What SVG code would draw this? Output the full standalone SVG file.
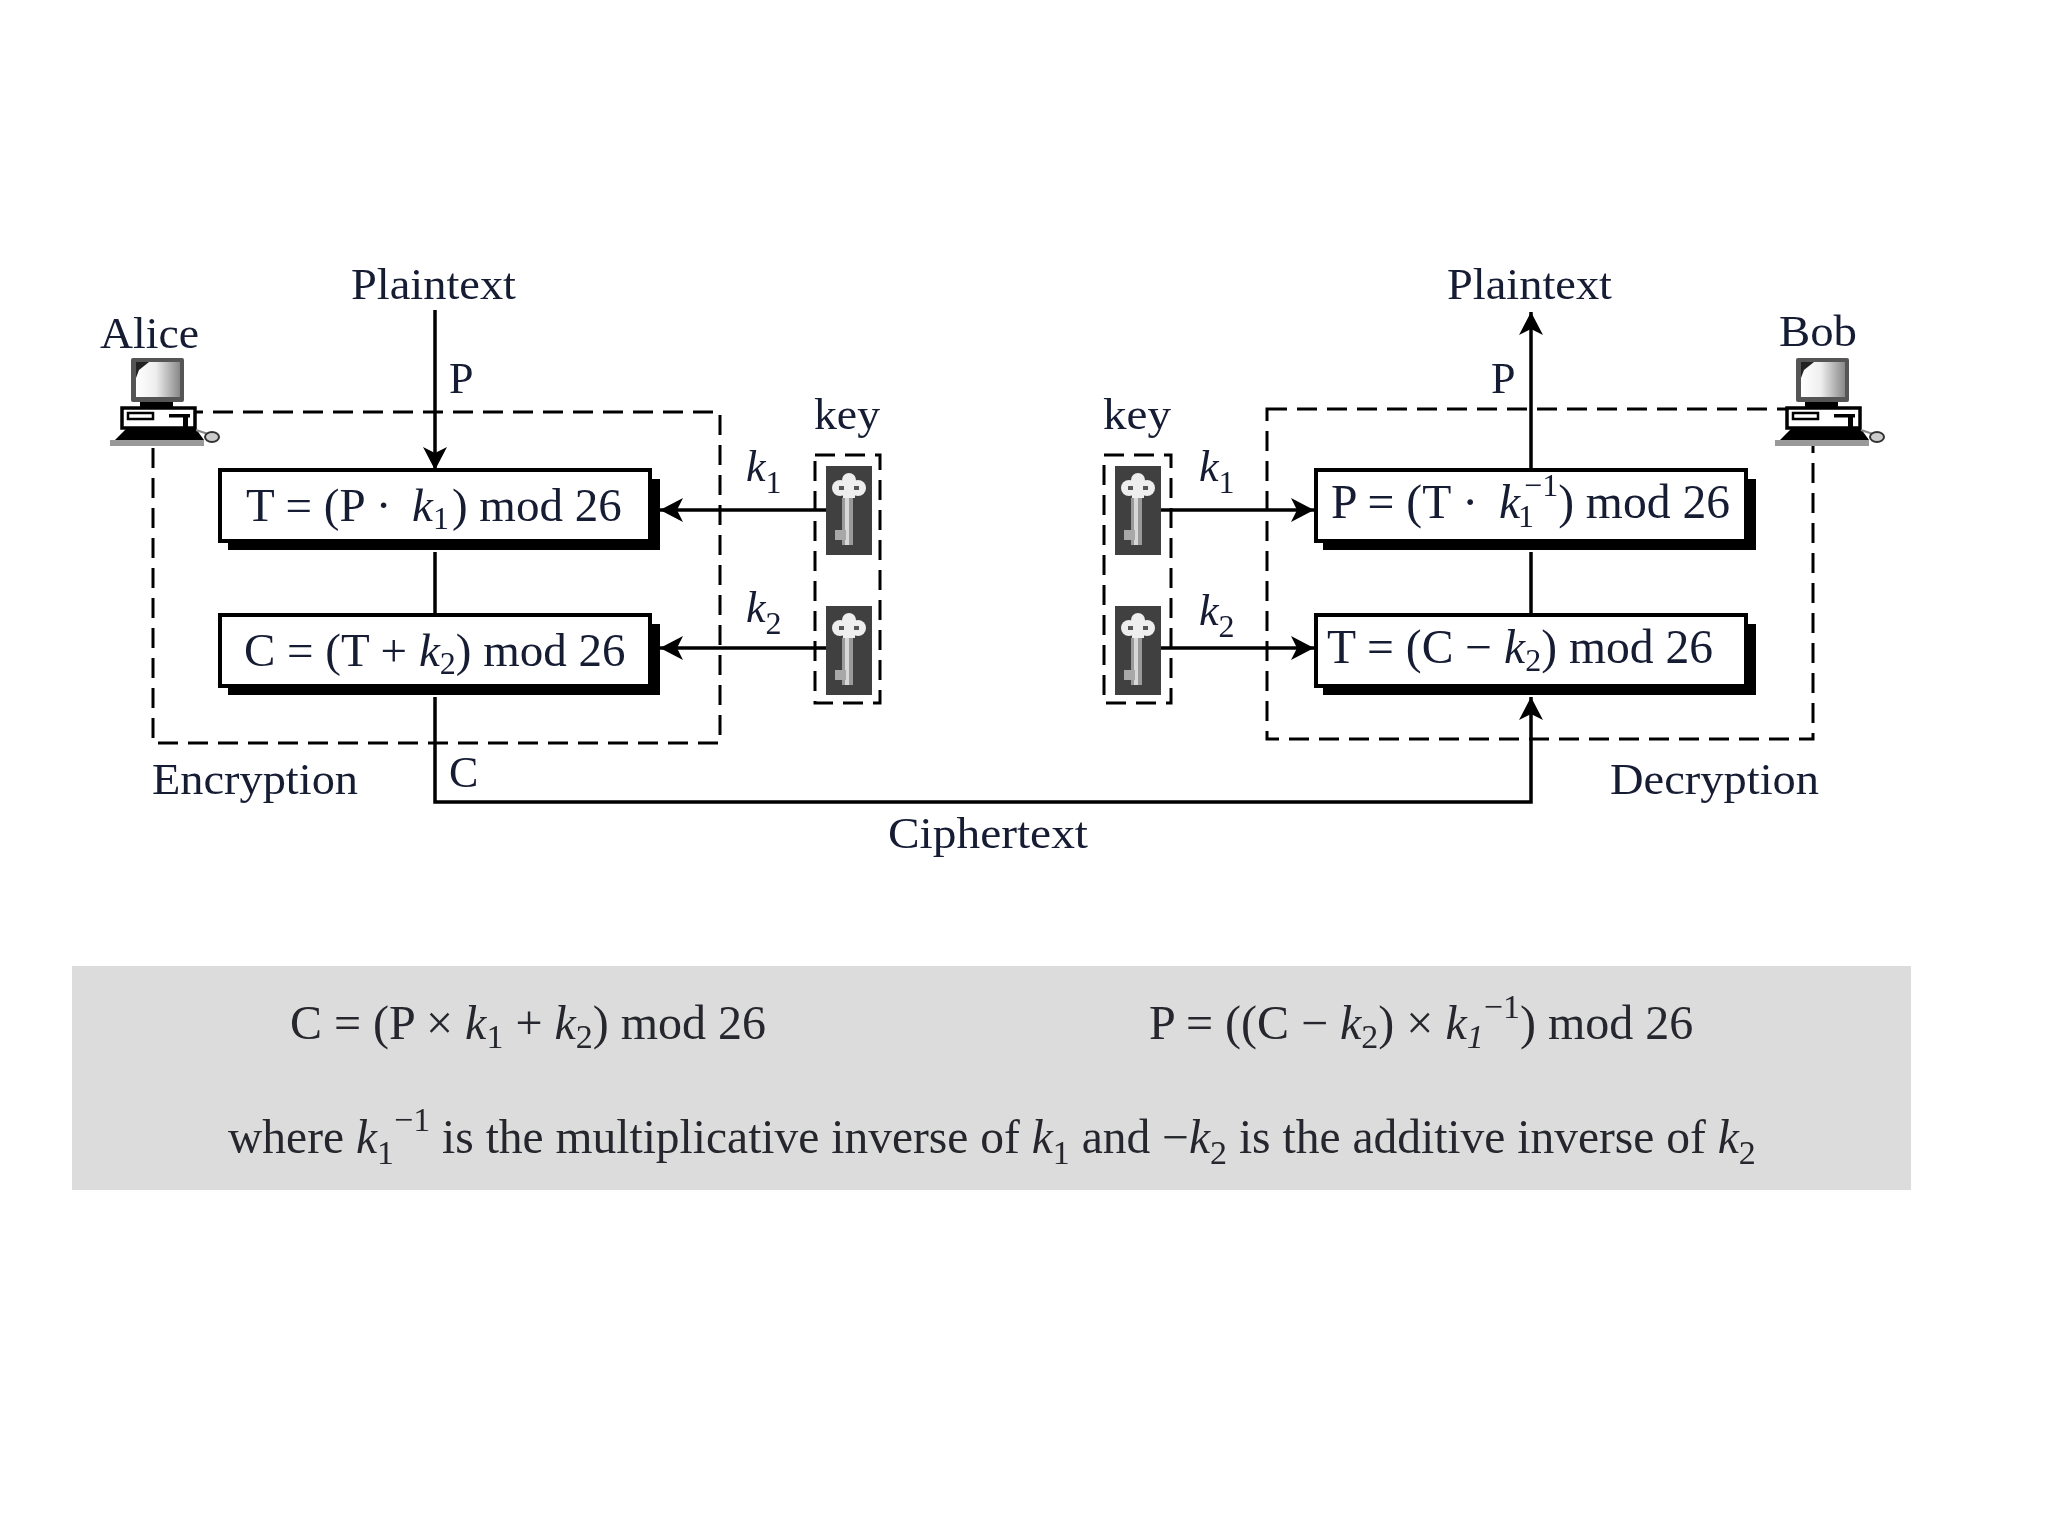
<svg xmlns="http://www.w3.org/2000/svg" width="2048" height="1536" viewBox="0 0 2048 1536">
<style>
text{font-family:"Liberation Serif","Times New Roman",serif;fill:#141a33;font-size:44px}
.eq{font-size:47px}
.eq.r{font-size:47.6px}
.g text{fill:#26282d;font-size:48px}
.g text.w{font-size:47.5px}
.i{font-style:italic}
.s{font-size:32px}
.g text .s{font-size:34px}
.line{fill:none;stroke:#000;stroke-width:3.5}
.dash{fill:none;stroke:#000;stroke-width:3;stroke-dasharray:20 10}
.box{fill:#fff;stroke:#000;stroke-width:4}
</style>
<defs>
<filter id="soft" filterUnits="userSpaceOnUse" x="0" y="0" width="2048" height="1536"><feGaussianBlur stdDeviation="0.7"/></filter>
<marker id="arrow" markerUnits="userSpaceOnUse" markerWidth="30" markerHeight="30" refX="26" refY="15" orient="auto">
<path d="M26,15 L3,3 L9,15 L3,27 Z" fill="#000"/>
</marker>
<linearGradient id="scr" x1="0" x2="1" y1="0" y2="0"><stop offset="0" stop-color="#fff"/><stop offset="0.45" stop-color="#eee"/><stop offset="1" stop-color="#888"/></linearGradient>
<symbol id="pc" width="130" height="100" viewBox="0 0 130 100" overflow="visible">
<rect x="11" y="8" width="53" height="44" rx="2" fill="#555"/>
<path d="M16,16 Q16,12 20,12 H60 V47 H16 Z" fill="url(#scr)"/>
<path d="M16,12 H29 L19,20 L16,28 Z" fill="#222"/>
<rect x="20" y="52" width="33" height="6" fill="#000"/>
<rect x="2" y="58" width="73" height="20" fill="#fff" stroke="#000" stroke-width="3.5"/>
<rect x="8" y="63" width="25" height="6" fill="#fff" stroke="#000" stroke-width="2.5"/>
<rect x="49" y="64" width="21" height="3.5" fill="#000"/>
<rect x="63" y="67" width="5" height="11" fill="#000"/>
<path d="M6,79 H76 L84,90 H-5 Z" fill="#000"/>
<rect x="-10" y="90" width="94" height="6" fill="#999"/>
<path d="M76,80 L88,84" stroke="#888" stroke-width="2" fill="none"/>
<ellipse cx="92" cy="87" rx="7" ry="5" fill="#ccc" stroke="#333" stroke-width="2"/>
</symbol>
<symbol id="key" width="46" height="89" viewBox="0 0 46 89">
<rect width="46" height="89" fill="#404040"/>
<circle cx="23" cy="14" r="7" fill="#eee"/><circle cx="14" cy="22" r="8" fill="#eee"/><circle cx="32" cy="22" r="8" fill="#eee"/><rect x="17" y="14" width="12" height="18" fill="#eee"/>
<rect x="13" y="20" width="5" height="4" fill="#555"/><rect x="28" y="20" width="5" height="4" fill="#555"/>
<rect x="16" y="32" width="11" height="47" fill="#9a9a9a"/>
<rect x="19" y="32" width="4" height="47" fill="#d8d8d8"/>
<rect x="9" y="64" width="11" height="10" fill="#a8a8a8"/>
</symbol>
</defs>
<rect width="2048" height="1536" fill="#fff"/>
<g filter="url(#soft)">
<g id="encryption-frame"><rect class="dash" x="153" y="412" width="567" height="331"/></g>
<g id="decryption-frame"><rect class="dash" x="1267" y="409" width="546" height="330"/></g>

<g id="connectors">
<path class="line" d="M435,310 V470" marker-end="url(#arrow)"/>
<path class="line" d="M435,552 V615"/>
<path class="line" d="M435,697 V802 H1531 V697" marker-end="url(#arrow)"/>
<path class="line" d="M1531,470 V312" marker-end="url(#arrow)"/>
<path class="line" d="M1531,552 V615"/>
<path class="line" d="M827,510 H660" marker-end="url(#arrow)"/>
<path class="line" d="M827,648 H660" marker-end="url(#arrow)"/>
<path class="line" d="M1161,510 H1314" marker-end="url(#arrow)"/>
<path class="line" d="M1161,648 H1314" marker-end="url(#arrow)"/>
</g>

<g id="alice"><use href="#pc" x="120" y="350"/><text x="100" y="348" textLength="99" lengthAdjust="spacingAndGlyphs">Alice</text></g>
<g id="bob"><use href="#pc" x="1785" y="350"/><text x="1779" y="346" textLength="78" lengthAdjust="spacingAndGlyphs">Bob</text></g>

<g id="plaintext-in"><text x="351" y="299" textLength="165" lengthAdjust="spacingAndGlyphs">Plaintext</text></g>
<g id="plaintext-out"><text x="1447" y="299" textLength="165" lengthAdjust="spacingAndGlyphs">Plaintext</text></g>
<g id="label-p-in"><text x="449" y="393">P</text></g>
<g id="label-p-out"><text x="1491" y="393">P</text></g>
<g id="label-c"><text x="449" y="787">C</text></g>
<g id="label-encryption"><text x="152" y="794" textLength="206" lengthAdjust="spacingAndGlyphs">Encryption</text></g>
<g id="label-decryption"><text x="1610" y="794" textLength="209" lengthAdjust="spacingAndGlyphs">Decryption</text></g>
<g id="label-ciphertext"><text x="888" y="848" textLength="200" lengthAdjust="spacingAndGlyphs">Ciphertext</text></g>

<g id="box-t-enc">
<rect x="228" y="479" width="432" height="71"/>
<rect class="box" x="220" y="470" width="430" height="71"/>
<text class="eq" x="246" y="521" xml:space="preserve">T = (P · <tspan class="i" dx="9">k</tspan><tspan class="s" dy="8">1</tspan><tspan dx="3" dy="-8">) mod 26</tspan></text>
</g>
<g id="box-c-enc">
<rect x="228" y="624" width="432" height="71"/>
<rect class="box" x="220" y="615" width="430" height="71"/>
<text class="eq" x="244" y="666">C = (T + <tspan class="i">k</tspan><tspan class="s" dy="8">2</tspan><tspan dy="-8">) mod 26</tspan></text>
</g>
<g id="box-p-dec">
<rect x="1323" y="479" width="433" height="71"/>
<rect class="box" x="1316" y="470" width="430" height="71"/>
<text class="eq r" x="1331" y="518" xml:space="preserve">P = (T ·  <tspan class="i" dx="-3">k</tspan><tspan class="s" dx="-2" dy="9">1</tspan><tspan class="s" dx="-10" dy="-31">−1</tspan><tspan dy="22">) mod 26</tspan></text>
</g>
<g id="box-t-dec">
<rect x="1323" y="624" width="433" height="71"/>
<rect class="box" x="1316" y="615" width="430" height="71"/>
<text class="eq r" x="1327" y="663">T = (C − <tspan class="i">k</tspan><tspan class="s" dy="8">2</tspan><tspan dy="-8">) mod 26</tspan></text>
</g>

<g id="keys-left">
<rect class="dash" x="815" y="455" width="65" height="248"/>
<use href="#key" x="826" y="466"/><use href="#key" x="826" y="606"/>
<text x="814" y="429" textLength="66" lengthAdjust="spacingAndGlyphs">key</text>
</g>
<g id="keys-right">
<rect class="dash" x="1104" y="455" width="67" height="248"/>
<use href="#key" x="1115" y="466"/><use href="#key" x="1115" y="606"/>
<text x="1103" y="429" textLength="68" lengthAdjust="spacingAndGlyphs">key</text>
</g>

<g id="label-k1-left"><text x="746" y="481"><tspan class="i">k</tspan><tspan class="s" dy="12">1</tspan></text></g>
<g id="label-k2-left"><text x="746" y="622"><tspan class="i">k</tspan><tspan class="s" dy="12">2</tspan></text></g>
<g id="label-k1-right"><text x="1199" y="481"><tspan class="i">k</tspan><tspan class="s" dy="12">1</tspan></text></g>
<g id="label-k2-right"><text x="1199" y="625"><tspan class="i">k</tspan><tspan class="s" dy="12">2</tspan></text></g>

<g id="formula-panel" class="g">
<rect x="72" y="966" width="1839" height="224" fill="#dcdcdc"/>
<text x="290" y="1039">C = (P × <tspan class="i">k</tspan><tspan class="s" dy="9">1</tspan><tspan dy="-9"> + </tspan><tspan class="i">k</tspan><tspan class="s" dy="9">2</tspan><tspan dy="-9">) mod 26</tspan></text>
<text x="1149" y="1039">P = ((C − <tspan class="i">k</tspan><tspan class="s" dy="9">2</tspan><tspan dy="-9">) × </tspan><tspan class="i">k</tspan><tspan class="s i" dy="9">1</tspan><tspan class="s" dy="-30">−1</tspan><tspan dy="21">) mod 26</tspan></text>
<text class="w" x="228" y="1153">where <tspan class="i">k</tspan><tspan class="s" dy="11">1</tspan><tspan class="s" dy="-33">−1</tspan><tspan dy="22"> is the multiplicative inverse of </tspan><tspan class="i">k</tspan><tspan class="s" dy="11">1</tspan><tspan dy="-11"> and −</tspan><tspan class="i">k</tspan><tspan class="s" dy="11">2</tspan><tspan dy="-11"> is the additive inverse of </tspan><tspan class="i">k</tspan><tspan class="s" dy="11">2</tspan></text>
</g>
</g>
</svg>
